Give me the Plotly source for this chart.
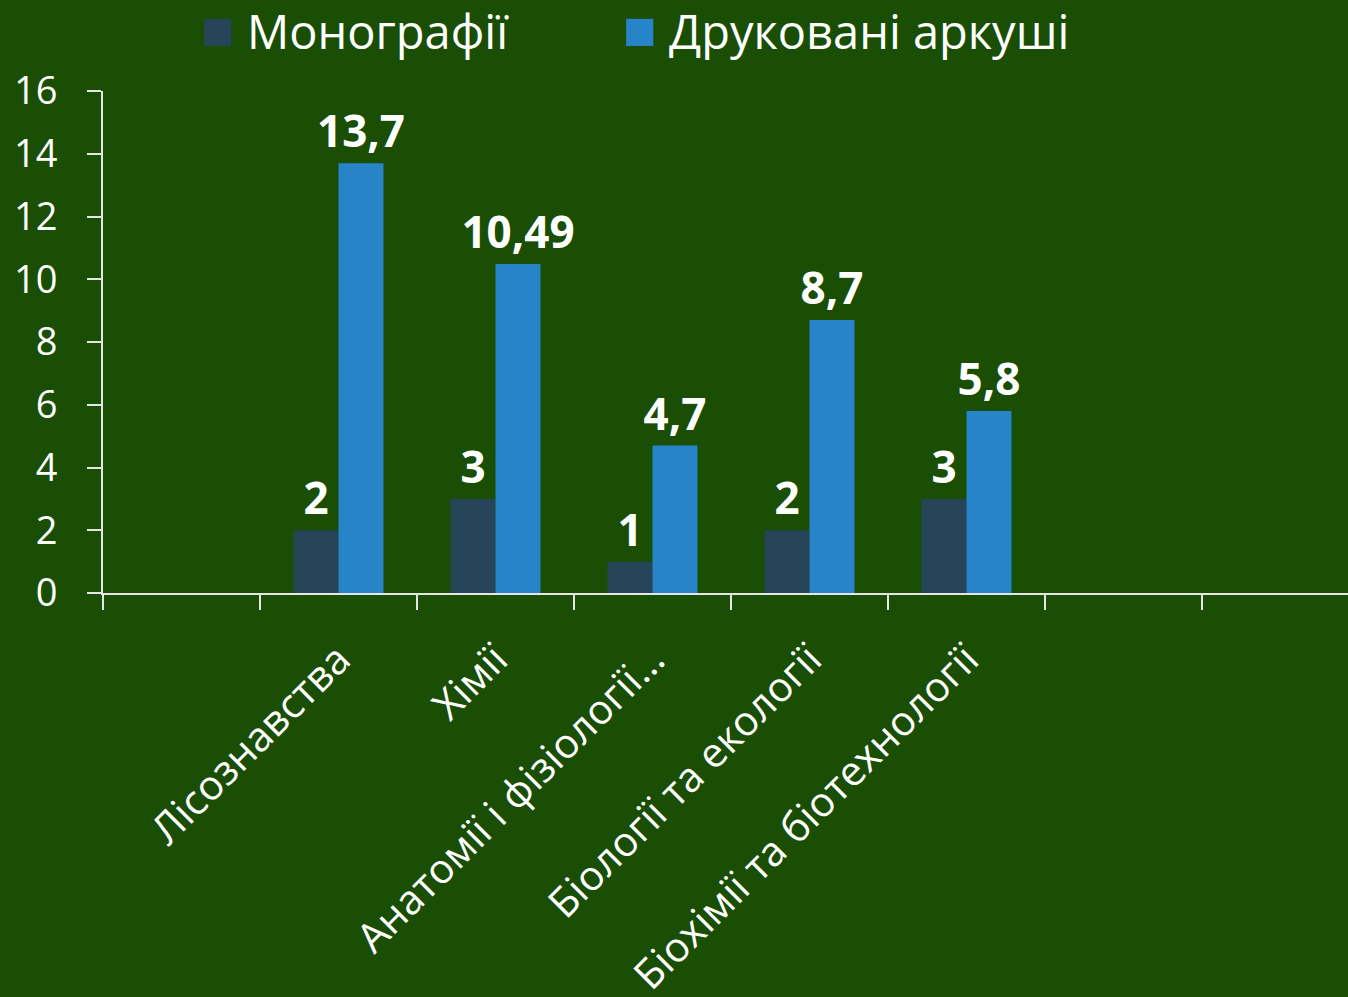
import plotly.graph_objects as go

# categories (first and last two slots are empty in the original slide)
categories = ["", "Лісознавства", "Хімії", "Анатомії і фізіології…",
              "Біології та екології", "Біохімії та біотехнології", "", ""]
bar_categories = ["Лісознавства", "Хімії", "Анатомії і фізіології…",
                  "Біології та екології", "Біохімії та біотехнології"]
monographs = [2, 3, 1, 2, 3]
sheets = [13.7, 10.49, 4.7, 8.7, 5.8]
y_ticks = [0, 2, 4, 6, 8, 10, 12, 14, 16]

BG = "#1a4e04"
DARK = "#264559"
BLUE = "#2784c8"
FONT = "Open Sans"

def fmt(v):
    return str(v).replace(".", ",")

# numeric x so the tick marks can sit between categories
xpos = [categories.index(c) + 0.5 for c in bar_categories]

label_font = dict(size=44, color="white", family=FONT, weight="bold")

fig = go.Figure()
fig.add_trace(go.Bar(x=xpos, y=monographs, name="Монографії",
                     marker_color=DARK, marker_line_width=0,
                     text=[fmt(v) for v in monographs], textposition="outside",
                     textfont=label_font, constraintext="none",
                     cliponaxis=False))
fig.add_trace(go.Bar(x=xpos, y=sheets, name="Друковані аркуші",
                     marker_color=BLUE, marker_line_width=0,
                     text=[fmt(v) for v in sheets], textposition="outside",
                     textfont=label_font, constraintext="none",
                     cliponaxis=False))

fig.update_layout(
    width=1348, height=997,
    paper_bgcolor=BG, plot_bgcolor=BG,
    margin=dict(l=103, r=0, t=91, b=404),
    barmode="group", bargap=0.427, bargroupgap=0,
    showlegend=False,
    font=dict(family=FONT, color="white"),
)
fig.update_xaxes(range=[0, 7.93], showgrid=False, zeroline=False,
                 showline=True, linecolor="#e6e6e6", linewidth=2,
                 tickvals=[i + 0.5 for i in range(len(categories))],
                 ticktext=categories, ticks="", tickangle=-45,
                 ticklabelstandoff=24, automargin=False,
                 tickfont=dict(size=41, color="white"),
                 minor=dict(tickvals=list(range(len(categories) + 1)),
                            ticks="outside", ticklen=15, tickcolor="#e6e6e6",
                            tickwidth=2, showgrid=False))
fig.update_yaxes(range=[0, 16], tickvals=y_ticks, showgrid=False,
                 zeroline=False, showline=True, linecolor="#e6e6e6",
                 linewidth=2, ticks="outside", ticklen=14,
                 tickcolor="#e6e6e6", tickwidth=2, ticklabelstandoff=22,
                 automargin=False,
                 tickfont=dict(size=38, color="white"))

# legend drawn as text so the swatches can be large
legend_items = [("Монографії", DARK, 0.077), ("Друковані аркуші", BLUE, 0.416)]
for name, color, lx in legend_items:
    fig.add_annotation(xref="paper", yref="paper", x=lx, y=1.128,
                       xanchor="left", yanchor="middle", showarrow=False,
                       text=f'<span style="color:{color};font-size:56px">■</span> {name}',
                       font=dict(size=47, color="white", family=FONT))

fig.write_html("out.html", config={"displayModeBar": False},
               post_script="document.body.style.margin='0';")
